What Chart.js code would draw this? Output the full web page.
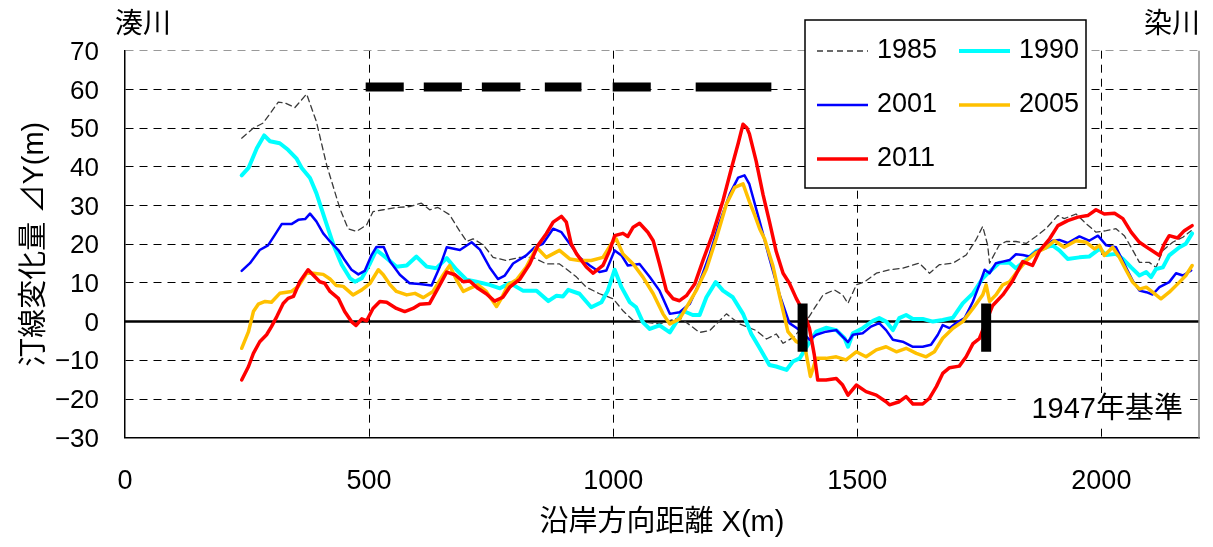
<!DOCTYPE html>
<html>

<head>
  <meta charset="utf-8">
  <title>汀線変化量</title>
  <style>
    body { margin: 0; background: #fff; }
  </style>
</head>

<body>
  <canvas id="mychart" width="1213" height="547"></canvas>

  <script src="https://cdn.jsdelivr.net/npm/chart.js@4"></script>

  <script>
    // ticks
    const xTicks = [0, 500, 1000, 1500, 2000];
    const yTicks = [-30, -20, -10, 0, 10, 20, 30, 40, 50, 60, 70];

    // shoreline change [X(m), dY(m)]
    const s1985 = [[239,47.4],[263,50],[283,51.3],[314,56.7],[328,56.5],[348,55.3],[372,58.8],[392,51.7],[413,40.5],[440,29.3],[457,24],[474,23.3],[495,25],[508,28.4],[529,28.9],[556,29.5],[583,29.7],[607,30.6],[624,28.9],[641,29.5],[665,27.6],[686,23.3],[700,20.7],[713,21.4],[734,19.8],[754,16.6],[781,15.8],[809,16.6],[836,16.6],[863,14.9],[890,14.9],[904,13.6],[925,11.5],[945,8.9],[972,7.2],[1000,5.9],[1020,2.8],[1041,0.3],[1068,-0.2],[1095,-0.6],[1136,1.1],[1177,-2.8],[1198,-2.3],[1232,2],[1259,-0.6],[1293,-2.3],[1314,-4.5],[1334,-3.2],[1348,-5.6],[1370,-4],[1390,-1],[1412,3.4],[1430,6.9],[1453,8.2],[1470,6.9],[1481,4.7],[1498,9.5],[1515,10.3],[1539,12.5],[1566,13.4],[1593,13.8],[1627,15.1],[1648,12.5],[1668,14.7],[1696,15.1],[1723,17.2],[1743,21.1],[1757,24.6],[1767,19.8],[1771,15.1],[1791,19.8],[1805,20.7],[1825,20.7],[1846,20.2],[1866,22],[1887,24.1],[1911,27.4],[1924,26.6],[1948,27.8],[1969,25.3],[1989,23.1],[2010,23.5],[2030,24],[2047,22.2],[2061,19.2],[2078,15.3],[2098,15.3],[2112,14],[2126,18.4],[2146,20.5],[2167,21.8],[2184,23.5]];

    const s1990 = [[239,37.8],[253,39.7],[270,44.8],[285,48.1],[297,46.6],[317,46.1],[334,44.4],[351,42.2],[362,39.7],[379,37.1],[392,33.2],[409,26.7],[427,19.8],[444,14.7],[461,11.2],[471,10.3],[485,11.2],[502,15.1],[515,18.5],[536,16.4],[556,14.2],[577,14.5],[597,16.8],[618,14.2],[638,13.8],[659,16.4],[679,13.4],[700,10.8],[720,10.3],[747,9.5],[768,8.6],[788,10],[815,8],[843,8],[867,5.3],[884,6.7],[897,6.5],[908,8.2],[931,7.2],[955,3.7],[976,5],[989,8],[1003,13.4],[1017,8.9],[1034,5],[1047,3.7],[1061,-0.2],[1075,-1.9],[1095,-1],[1116,-2.8],[1129,-0.2],[1143,2.8],[1163,1.7],[1177,1.7],[1191,6.3],[1210,10.2],[1225,8],[1245,6.3],[1266,2],[1283,-3.2],[1300,-6.8],[1320,-11.2],[1334,-11.6],[1355,-12.5],[1368,-10.3],[1382,-9.5],[1399,-6],[1416,-2.6],[1436,-1.6],[1457,-2.2],[1474,-4.3],[1481,-6.5],[1491,-3],[1511,-1.7],[1532,0.2],[1545,0.9],[1559,0],[1573,-2.2],[1586,0.9],[1600,1.7],[1614,0.7],[1634,0.7],[1655,0],[1675,0.4],[1696,1],[1716,4.7],[1737,7.3],[1757,11.2],[1771,12.9],[1791,15.2],[1812,15.2],[1825,13.8],[1846,16],[1866,18.2],[1890,19.3],[1900,19.7],[1914,18.4],[1931,16.2],[1955,16.6],[1975,16.8],[1996,18.8],[2010,17.2],[2030,17.5],[2044,16.2],[2061,14],[2078,11.9],[2092,12.8],[2102,11.5],[2112,13.6],[2126,14],[2139,17.1],[2160,19.2],[2173,20.1],[2186,22.8]];

    const s2001 = [[239,13.1],[256,15.1],[276,18.5],[293,19.7],[307,22.4],[321,25.2],[341,25.2],[355,26.3],[369,26.5],[379,27.9],[392,25.9],[406,22.8],[420,20.7],[437,18.5],[450,15.9],[464,13.4],[478,12.2],[491,13.1],[505,17.2],[515,19.3],[530,19.3],[543,15.5],[563,12.1],[583,9.9],[604,9.7],[628,9.3],[645,14.2],[659,19.2],[686,18.5],[710,20.5],[727,18.6],[747,14],[764,11],[778,11.9],[795,15],[822,17.1],[839,19.2],[856,20.1],[877,24],[894,23.1],[911,20.1],[931,16.6],[952,14.5],[972,12.8],[986,13.2],[1003,18.4],[1017,17.1],[1030,14.5],[1054,14.9],[1075,11.5],[1095,8],[1116,2],[1136,2.4],[1157,4.6],[1177,10.2],[1198,17.5],[1218,25.7],[1239,33],[1256,37.2],[1269,37.8],[1279,35.5],[1300,25.9],[1320,16.4],[1341,6.9],[1361,-0.4],[1375,-1.6],[1390,-3],[1402,-4.7],[1416,-3.4],[1436,-2.6],[1457,-2.2],[1470,-3.9],[1481,-5.3],[1491,-3.4],[1511,-3],[1528,-1.3],[1545,-0.4],[1559,-2.2],[1573,-4.7],[1593,-5.2],[1614,-6.5],[1634,-6.5],[1651,-6],[1665,-3.4],[1675,-0.9],[1689,-1.7],[1702,-0.4],[1720,0.9],[1737,5.2],[1750,9.5],[1761,13.4],[1771,12.5],[1784,15.1],[1798,15.5],[1812,15.9],[1825,17.4],[1839,17.2],[1853,16.8],[1866,18.1],[1880,18.8],[1900,20.9],[1914,21.1],[1931,20.3],[1955,22],[1975,20.9],[1993,22.2],[2010,19.7],[2030,19.2],[2047,14.9],[2064,10.6],[2078,8],[2092,7.6],[2105,7],[2119,8.9],[2139,10.2],[2153,12.5],[2167,11.9],[2184,13.2]];

    const s2005 = [[239,-6.9],[253,-2.6],[263,2.6],[273,4.5],[287,5.2],[300,5],[317,7.3],[341,7.8],[355,9.1],[372,12.5],[386,12.5],[406,12.2],[420,11],[433,9.3],[447,9.1],[467,6.9],[485,8.2],[502,9.9],[519,13.4],[529,12.1],[543,9.5],[556,7.8],[577,6.9],[594,7.3],[611,6.2],[631,7.8],[652,12.1],[665,14.5],[679,10.8],[693,7.8],[706,8.6],[723,9.5],[740,7.8],[754,5.2],[761,3.9],[771,6],[785,9.5],[802,10.8],[822,14.1],[843,19.2],[863,16.6],[890,18.4],[911,16.2],[931,15.8],[955,15.8],[979,16.6],[996,20.1],[1006,21.4],[1020,17.5],[1041,14.9],[1061,11.5],[1082,7.2],[1102,2],[1116,-0.6],[1136,0.7],[1150,3.7],[1170,8],[1191,13.6],[1211,21.4],[1232,30.4],[1249,34.7],[1266,35.6],[1279,31],[1290,27.5],[1300,24],[1310,21.4],[1327,14.5],[1341,6.5],[1358,-2.6],[1375,-5.2],[1392,-6],[1404,-14.2],[1416,-9.5],[1436,-9.5],[1457,-9.1],[1477,-9.9],[1498,-7.8],[1518,-9.1],[1539,-7.3],[1559,-6.5],[1580,-7.8],[1600,-6.9],[1621,-8.2],[1641,-9.1],[1658,-7.8],[1675,-4.3],[1696,-1.7],[1716,0],[1737,3.4],[1757,6.9],[1764,9.5],[1771,5.2],[1784,6.9],[1798,9.5],[1812,10.3],[1825,12.5],[1846,15.7],[1866,17.8],[1887,19.1],[1904,20.9],[1924,19.2],[1948,20.9],[1969,20.5],[1986,18.8],[1996,19.7],[2006,17.1],[2023,19.2],[2037,16.6],[2051,13.2],[2064,10.2],[2078,8.4],[2092,8.9],[2105,7.6],[2122,5.9],[2139,7.6],[2160,10.2],[2173,11.9],[2186,14.5]];

    const s2011 = [[239,-15.1],[253,-11.6],[263,-8.2],[276,-5.2],[290,-3.4],[300,-1.3],[311,1.3],[324,4.7],[334,6],[345,6.5],[358,10.3],[375,13.4],[389,11.6],[399,10.3],[409,9.9],[420,7.8],[437,6],[450,2.6],[464,0],[473,-1],[485,0.7],[495,0.2],[508,3.4],[522,5.2],[536,5],[556,3.4],[573,2.6],[590,3.4],[604,4.5],[624,4.7],[641,8.6],[659,12.8],[676,12.1],[693,10.3],[706,10.5],[723,8.6],[740,7.2],[757,5.3],[774,6.3],[788,8.9],[809,11],[829,14.9],[846,19.7],[863,22.7],[877,25.7],[894,27.2],[904,25.7],[914,20.1],[925,17.5],[945,14.1],[959,12.5],[979,14.5],[993,18.4],[1003,22.2],[1020,22.8],[1030,22],[1041,24.4],[1054,25.4],[1071,23.1],[1082,20.9],[1095,14.9],[1109,8],[1123,5.9],[1136,5.4],[1150,6.7],[1167,9.7],[1184,15.8],[1204,22.7],[1225,31.3],[1242,39.5],[1256,46],[1266,51],[1274,50],[1279,48.5],[1293,41.4],[1307,32.8],[1320,25.9],[1334,18.1],[1348,12.5],[1361,9.9],[1375,6],[1390,2.5],[1402,-1.7],[1412,-8.6],[1419,-15.1],[1436,-15.1],[1457,-14.7],[1470,-16.4],[1481,-19],[1498,-16.4],[1518,-18.1],[1539,-19],[1559,-20.7],[1566,-21.5],[1586,-20.7],[1600,-19.4],[1614,-21.3],[1634,-21.3],[1648,-19.8],[1662,-16.8],[1675,-13.4],[1689,-11.9],[1709,-11.5],[1723,-9.1],[1737,-5.7],[1750,-4.4],[1764,0],[1777,4.1],[1798,6.9],[1818,10.5],[1839,15.5],[1859,14.5],[1873,18.2],[1894,21.4],[1911,24.8],[1931,26.1],[1952,27],[1972,27.4],[1989,28.9],[2006,27.8],[2027,28],[2044,26.6],[2061,23.1],[2078,20.5],[2098,18.8],[2119,17.1],[2129,20.1],[2139,22.2],[2156,21.6],[2170,23.5],[2186,24.8]];

    // thick black marks: spans along the top and the two vertical bars
    const topSpans = [[493,571],[612,690],[731,810],[860,935],[999,1077],[1169,1324]];
    const topSpanY = 60.6;
    const barX = [1388, 1764];
    const barY = [4.7, -7.8];

    const FONT = "'Liberation Sans', 'Noto Sans CJK JP', sans-serif";
    Chart.defaults.font.family = FONT;
    Chart.defaults.color = '#000';

    const pts = arr => arr.map(([x, y]) => ({x, y}));

    // segments separated by null points
    const spanPts = [];
    topSpans.forEach(([a, b]) => {
      spanPts.push({x: a, y: topSpanY}, {x: b, y: topSpanY}, {x: b, y: null});
    });
    const barPts = [];
    barX.forEach(x => {
      barPts.push({x, y: barY[0]}, {x, y: barY[1]}, {x, y: null});
    });

    const series = [
      {label: '1985', data: pts(s1985), borderColor: '#3a3a3a', borderWidth: 1.3, borderDash: [6, 4], order: 9},
      {label: '1990', data: pts(s1990), borderColor: '#00ffff', borderWidth: 4, order: 8},
      {label: '2001', data: pts(s2001), borderColor: '#0000ff', borderWidth: 2.5, order: 7},
      {label: '2005', data: pts(s2005), borderColor: '#ffc000', borderWidth: 3.5, order: 6},
      {label: '2011', data: pts(s2011), borderColor: '#ff0000', borderWidth: 3.5, order: 5},
    ];
    series.forEach(s => {
      s.pointRadius = 0;
      s.borderJoinStyle = 'round';
      s.borderCapStyle = 'round';
    });

    const extras = [
      {label: 'zero', data: [{x: 0, y: 0}, {x: 2200, y: 0}], borderColor: '#000', borderWidth: 2.5, pointRadius: 0, order: 10},
      {label: 'spans', data: spanPts, borderColor: '#000', borderWidth: 9, pointRadius: 0, spanGaps: false, borderCapStyle: 'butt', order: 1},
      {label: 'bars', data: barPts, borderColor: '#000', borderWidth: 10, pointRadius: 0, spanGaps: false, borderCapStyle: 'butt', order: 1},
    ];

    // legend, river names, reference note
    const annot = {
      id: 'annot',
      afterDatasetsDraw(chart) {
        const ctx = chart.ctx;
        ctx.save();
        ctx.fillStyle = '#fff';
        ctx.fillRect(1018, 393, 172, 34);
        ctx.fillStyle = '#000';
        ctx.font = '29px ' + FONT;
        ctx.textAlign = 'right';
        ctx.textBaseline = 'middle';
        ctx.fillText('1947年基準', 1183, 410);
        ctx.restore();
      },
      afterDraw(chart) {
        const ctx = chart.ctx;
        const area = chart.chartArea;
        ctx.save();
        // right frame
        ctx.strokeStyle = '#888';
        ctx.lineWidth = 1.5;
        ctx.beginPath();
        ctx.moveTo(area.right, area.top);
        ctx.lineTo(area.right, area.bottom);
        ctx.stroke();

        ctx.font = '28px ' + FONT;
        ctx.fillStyle = '#000';
        ctx.textBaseline = 'middle';
        ctx.textAlign = 'left';
        ctx.fillText('湊川', 115, 25);
        ctx.textAlign = 'right';
        ctx.fillText('染川', 1200, 25);

        // legend box
        ctx.fillStyle = '#fff';
        ctx.fillRect(805, 20, 281, 168);
        ctx.strokeStyle = '#000';
        ctx.lineWidth = 1.5;
        ctx.strokeRect(805, 20, 281, 168);
        const colX = [817, 959];
        const rowY = [51, 105, 159];
        ctx.font = '27px ' + FONT;
        ctx.textAlign = 'left';
        series.forEach((s, i) => {
          const x = colX[i % 2];
          const y = rowY[Math.floor(i / 2)];
          ctx.strokeStyle = s.borderColor;
          ctx.lineWidth = s.borderWidth;
          ctx.setLineDash(s.borderDash || []);
          ctx.beginPath();
          ctx.moveTo(x, y);
          ctx.lineTo(x + 51, y);
          ctx.stroke();
          ctx.setLineDash([]);
          ctx.fillStyle = '#000';
          ctx.fillText(s.label, x + 60, y);
        });
        ctx.restore();
      }
    };

    const minus = v => String(v).replace('-', '−');

    new Chart(document.getElementById('mychart'), {
      type: 'line',
      data: {datasets: [...series, ...extras]},
      options: {
        responsive: false,
        animation: false,
        layout: {padding: {top: 50.7, right: 14, left: 0, bottom: 0}},
        plugins: {legend: {display: false}, tooltip: {enabled: false}},
        scales: {
          x: {
            type: 'linear',
            min: 0,
            max: 2200,
            afterBuildTicks: s => { s.ticks = xTicks.map(v => ({value: v})); },
            afterFit: s => { s.height = 109.3; },
            grid: {
              color: c => (c.tick && c.tick.value === 0) ? 'rgba(0,0,0,0)' : '#000',
              lineWidth: 1,
              drawTicks: false,
            },
            border: {color: '#000', width: 1.5, dash: [8, 6]},
            ticks: {padding: 28, font: {size: 27}, maxRotation: 0, autoSkip: false, callback: minus},
            title: {display: true, text: '沿岸方向距離 X(m)', font: {size: 29}, padding: {top: 0, bottom: 7}},
          },
          y: {
            type: 'linear',
            min: -30,
            max: 70,
            afterBuildTicks: s => { s.ticks = yTicks.map(v => ({value: v})); },
            afterFit: s => { s.width = 125; },
            grid: {
              color: c => {
                const v = c.tick ? c.tick.value : null;
                if (v === 0 || v === -30) return 'rgba(0,0,0,0)';
                return v === 70 ? '#999' : '#000';
              },
              lineWidth: 1,
              drawTicks: false,
            },
            border: {color: '#000', width: 1.5, dash: [8, 6]},
            ticks: {padding: 26, font: {size: 26}, labelOffset: 2, callback: minus},
            title: {display: true, text: '汀線変化量 ⊿Y(m)', font: {size: 29}, padding: {top: 18, bottom: 0}},
          },
        },
      },
      plugins: [annot],
    });
  </script>
</body>

</html>
